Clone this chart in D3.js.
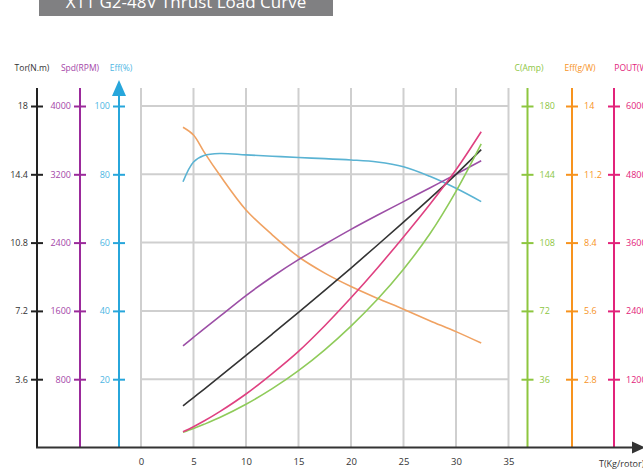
<!doctype html>
<html lang="en">
<head>
<meta charset="utf-8">
<title>X11 G2-48V Thrust Load Curve</title>
<script src="https://d3js.org/d3.v7.min.js"></script>
<style>
  body { margin: 0; background: #fff; }
  text { font-family: "Open Sans", "Noto Sans", sans-serif; }
</style>
</head>
<body>
<svg width="643" height="473"></svg>
<script>
// thrust (kg/rotor) sample points
var thrust = [4, 5, 6, 7.5, 10, 12.5, 15, 17.5, 20, 22.5, 25, 27.5, 30, 32.4];
var torque = [2.2, 2.63, 3.07, 3.73, 4.85, 5.98, 7.12, 8.28, 9.46, 10.66, 11.88, 13.12, 14.4, 15.7];
var speed = [1189, 1290, 1390, 1535, 1780, 2000, 2200, 2380, 2555, 2720, 2880, 3040, 3200, 3359];
var effPct = [77.8, 83.6, 85.5, 86.1, 85.7, 85.3, 84.9, 84.6, 84.2, 83.6, 82.2, 79.4, 75.9, 72];
var current = [8, 10, 12.2, 15.8, 22.8, 31, 40.5, 51.5, 64, 78, 94, 112.5, 135, 160];
var effGW = [13.13, 12.81, 12.12, 11.17, 9.74, 8.72, 7.82, 7.15, 6.6, 6.12, 5.67, 5.2, 4.75, 4.28];
var pout = [278, 366, 465, 630, 940, 1300, 1690, 2140, 2630, 3150, 3700, 4270, 4880, 5548];

var xTicks = [0, 5, 10, 15, 20, 25, 30, 35];
var torTicks = [3.6, 7.2, 10.8, 14.4, 18];
var spdTicks = [800, 1600, 2400, 3200, 4000];
var effTicks = [20, 40, 60, 80, 100];
var ampTicks = [36, 72, 108, 144, 180];
var gwTicks = [2.8, 5.6, 8.4, 11.2, 14];
var poutTicks = [1200, 2400, 3600, 4800, 6000];

var svg = d3.select("svg");
var y0 = 447.5, yTop = 106, axTop = 88;

var x = d3.scaleLinear().domain([0, 35]).range([141, 508.5]);
function yScale(max) { return d3.scaleLinear().domain([0, max]).range([y0, yTop]); }
var yTor = yScale(18), ySpd = yScale(4000), yEff = yScale(100),
    yAmp = yScale(180), yGW = yScale(14), yPout = yScale(6000);

// title box
svg.append("rect").attr("x", 39).attr("y", -20).attr("width", 294).attr("height", 36).attr("fill", "#808082");
svg.append("text").attr("x", 186).attr("y", 8).attr("text-anchor", "middle")
  .attr("fill", "#fff").attr("font-size", 17).text("X11 G2-48V Thrust Load Curve");

// grid
var grid = svg.append("g").attr("stroke", "#cfcfcf").attr("stroke-width", 2);
grid.selectAll("line.v").data(xTicks).enter().append("line")
  .attr("x1", d => x(d)).attr("x2", d => x(d)).attr("y1", axTop).attr("y2", y0);
grid.selectAll("line.h").data(torTicks).enter().append("line")
  .attr("x1", x(0)).attr("x2", x(35)).attr("y1", d => yTor(d)).attr("y2", d => yTor(d));

// vertical value axes
function vAxis(px, scale, ticks, color, labelColor, side, title, titleX) {
  var ax = side === "left" ? d3.axisLeft(scale) : d3.axisRight(scale);
  ax.tickValues(ticks).tickSize(6).tickPadding(side === "left" ? 4 : 6).tickFormat(d => d);
  var g = svg.append("g").attr("transform", "translate(" + px + ",0)").call(ax);
  g.select(".domain").remove();
  g.selectAll(".tick line").attr("x1", -6).attr("x2", 6).attr("stroke", color).attr("stroke-width", 2);
  g.selectAll(".tick text").attr("fill", labelColor).attr("font-size", 9)
    .attr("x", side === "left" ? -9 : 12);
  g.append("line").attr("x1", 0).attr("x2", 0).attr("y1", axTop).attr("y2", y0)
    .attr("stroke", color).attr("stroke-width", 2);
  svg.append("text").attr("x", titleX).attr("y", 71).attr("text-anchor", "middle")
    .attr("font-size", 8.5).attr("fill", labelColor).text(title);
  return g;
}
vAxis(37, yTor, torTicks, "#222", "#333", "left", "Tor(N.m)", 32);
vAxis(80, ySpd, spdTicks, "#9b2a9b", "#a446a8", "left", "Spd(RPM)", 80);
var effAx = vAxis(119, yEff, effTicks, "#27a6db", "#4cb6e3", "left", "Eff(%)", 121);
effAx.append("path").attr("d", "M0,80 L-7,96 L7,96 Z").attr("fill", "#27a6db");
vAxis(527.5, yAmp, ampTicks, "#8dc63f", "#8dc63f", "right", "C(Amp)", 529);
vAxis(572, yGW, gwTicks, "#f7931e", "#f7931e", "right", "Eff(g/W)", 580);
vAxis(614, yPout, poutTicks, "#e2237a", "#e2237a", "right", "POUT(W)", 632);

// x axis
var xAx = svg.append("g").attr("transform", "translate(0," + (y0 + 11) + ")")
  .call(d3.axisBottom(x).tickValues(xTicks).tickSize(0).tickPadding(0));
xAx.select(".domain").remove();
xAx.selectAll(".tick text").attr("font-size", 9.5).attr("fill", "#333");
svg.append("line").attr("x1", 36).attr("x2", 636).attr("y1", y0).attr("y2", y0)
  .attr("stroke", "#333").attr("stroke-width", 2);
svg.append("path").attr("d", "M645," + y0 + " L632," + (y0 - 6) + " L632," + (y0 + 6) + " Z").attr("fill", "#333");
svg.append("text").attr("x", 599).attr("y", 467).attr("font-size", 9).attr("fill", "#333").text("T(Kg/rotor)");

// curves
var series = [
  { vals: effGW, y: yGW, color: "#f0a262" },
  { vals: effPct, y: yEff, color: "#5ab3d3" },
  { vals: speed, y: ySpd, color: "#9c4fa6" },
  { vals: torque, y: yTor, color: "#333333" },
  { vals: current, y: yAmp, color: "#8fcb5a" },
  { vals: pout, y: yPout, color: "#df4181" }
];
series.forEach(function(s) {
  var line = d3.line().curve(d3.curveCatmullRom.alpha(0.5))
    .x((d, i) => x(thrust[i])).y(d => s.y(d));
  svg.append("path").datum(s.vals).attr("d", line)
    .attr("fill", "none").attr("stroke", s.color).attr("stroke-width", 1.6);
});
</script>
</body>
</html>
